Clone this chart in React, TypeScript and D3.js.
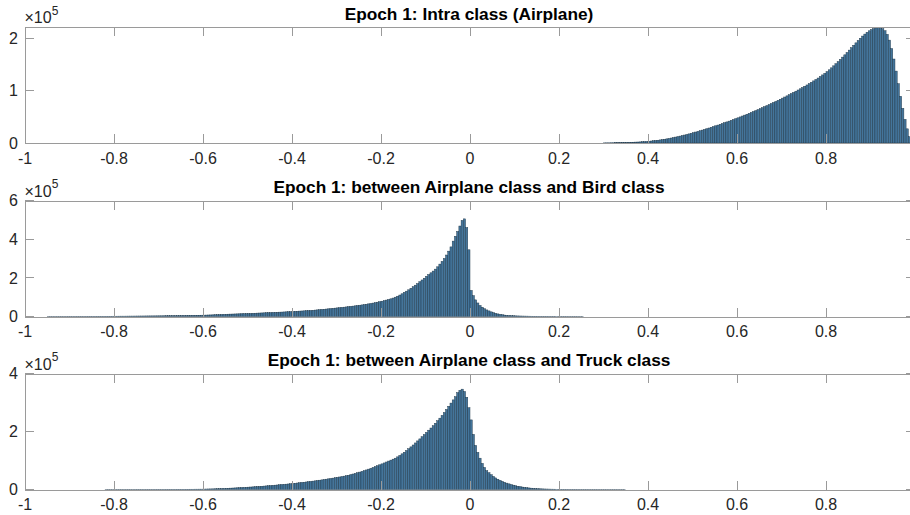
import React from 'react';
import * as d3 from 'd3';

// ---------- data ----------
const BIN = 0.005;
const X_TICKS = [-1, -0.8, -0.6, -0.4, -0.2, 0, 0.2, 0.4, 0.6, 0.8, 1];
const X_LABEL_MAX = 0.9; // the "1" label lies beyond the visible page
const TITLES = [
  'Epoch 1: Intra class (Airplane)',
  'Epoch 1: between Airplane class and Bird class',
  'Epoch 1: between Airplane class and Truck class',
];
const Y_MAX = [2.21e5, 6e5, 4e5];
const Y_TICKS = [[0, 1, 2], [0, 2, 4, 6], [0, 2, 4]]; // in units of 1e5

// counts per bin, in thousands
const INTRA_START = 0.3;
const INTRA_COUNTS_K = [
  0.2, 0.3, 0.3, 0.4, 0.4, 0.5, 0.6, 0.7, 0.8, 0.9,
  1.0, 1.2, 1.3, 1.5, 1.7, 1.9, 2.1, 2.4, 2.7, 3.0,
  3.4, 3.8, 4.3, 4.8, 5.3, 5.9, 6.5, 7.2, 7.9, 8.7,
  9.5, 10.4, 11.3, 12.2, 13.2, 14.2, 15.2, 16.3, 17.4, 18.5,
  19.7, 20.9, 22.1, 23.3, 24.6, 25.9, 27.2, 28.6, 30.0, 31.4,
  32.8, 34.2, 35.7, 37.2, 38.7, 40.2, 41.7, 43.2, 44.8, 46.4,
  48.0, 49.7, 51.4, 53.1, 54.8, 56.5, 58.2, 60.0, 61.8, 63.6,
  65.5, 67.4, 69.3, 71.2, 73.2, 75.2, 77.2, 79.2, 81.3, 83.4,
  85.5, 87.6, 89.8, 92.0, 94.2, 96.4, 98.7, 101.0, 103.3, 105.7,
  108.1, 110.6, 113.1, 115.7, 118.3, 121.0, 123.8, 126.7, 129.7, 132.8,
  136.0, 139.5, 143.2, 147.0, 151.0, 155.1, 159.3, 163.6, 168.0, 172.5,
  177.0, 181.6, 186.2, 190.8, 195.3, 199.6, 203.7, 207.5, 210.9, 213.8,
  216.2, 218.0, 219.3, 220.0, 219.6, 217.8, 213.9, 207.0, 196.0, 180.0,
  160.0, 137.0, 113.0, 89.0, 66.0, 45.0, 27.0, 12.0, 3.0, 0.5,
];

const BIRD_START = -0.95;
const BIRD_COUNTS_K = [
  0.2, 0.2, 0.3, 0.3, 0.3, 0.3, 0.4, 0.4, 0.4, 0.5,
  0.5, 0.5, 0.6, 0.6, 0.6, 0.7, 0.7, 0.8, 0.8, 0.9,
  0.9, 1.0, 1.0, 1.1, 1.1, 1.2, 1.3, 1.3, 1.4, 1.5,
  1.5, 1.6, 1.7, 1.8, 1.8, 1.9, 2.0, 2.1, 2.2, 2.3,
  2.4, 2.5, 2.6, 2.7, 2.8, 2.9, 3.0, 3.1, 3.2, 3.3,
  3.4, 3.5, 3.7, 3.8, 4.0, 4.1, 4.3, 4.4, 4.6, 4.8,
  5.0, 5.2, 5.4, 5.6, 5.8, 6.0, 6.2, 6.4, 6.6, 6.8,
  7.0, 7.4, 7.8, 8.2, 8.6, 9.0, 9.5, 10.0, 10.5, 11.0,
  11.5, 12.0, 12.4, 12.8, 13.2, 13.6, 14.0, 14.4, 14.8, 15.2,
  15.6, 16.0, 16.5, 17.0, 17.5, 18.0, 18.5, 19.0, 19.5, 20.0,
  20.5, 21.0, 21.5, 22.0, 22.5, 23.0, 23.6, 24.2, 24.8, 25.4,
  26.0, 26.6, 27.2, 27.9, 28.6, 29.3, 30.0, 30.7, 31.4, 32.2,
  33.3, 34.3, 35.3, 36.4, 37.5, 38.6, 39.8, 41.0, 42.2, 43.4,
  44.6, 45.8, 47.0, 48.3, 49.6, 51.0, 52.4, 53.8, 55.3, 56.8,
  58.4, 60.0, 61.7, 63.5, 65.4, 67.4, 69.5, 71.7, 74.0, 76.6,
  79.2, 82.0, 85.0, 88.0, 91.5, 95.5, 100.0, 105.0, 111.0, 117.5,
  125, 131, 138, 146, 154, 162, 170, 180, 189, 198,
  208, 217, 226, 235, 245, 257, 271, 285, 300, 318,
  338, 360, 390, 415, 440, 468, 497, 505, 460, 345,
  135, 108, 86, 70, 57, 48, 40, 34, 29, 24,
  20, 16.5, 13.5, 11, 9, 7.5, 6.2, 5.2, 4.4, 3.8,
  3.3, 2.9, 2.6, 2.3, 2.1, 1.9, 1.7, 1.5, 1.4, 1.3,
  1.2, 1.1, 1.0, 0.9, 0.9, 0.8, 0.8, 0.7, 0.7, 0.6,
  0.6, 0.5, 0.5, 0.4, 0.4, 0.3, 0.3, 0.3, 0.2, 0.2,
  0.2,
];

const TRUCK_START = -0.82;
const TRUCK_COUNTS_K = [
  0.1, 0.1, 0.1, 0.1, 0.1, 0.1, 0.2, 0.2, 0.2, 0.2,
  0.2, 0.2, 0.2, 0.3, 0.3, 0.3, 0.3, 0.3, 0.3, 0.3,
  0.3, 0.4, 0.4, 0.4, 0.4, 0.4, 0.5, 0.5, 0.5, 0.6,
  0.6, 0.6, 0.7, 0.7, 0.8, 0.8, 0.9, 0.9, 1.0, 1.0,
  1.1, 1.1, 1.2, 1.2, 1.4, 1.6, 1.8, 2.0, 2.2, 2.5,
  2.7, 3.0, 3.3, 3.6, 3.9, 4.3, 4.7, 5.1, 5.5, 5.9,
  6.3, 6.7, 7.1, 7.6, 8.1, 8.6, 9.1, 9.6, 10.1, 10.6,
  11.2, 11.8, 12.4, 13.0, 13.6, 14.3, 15.0, 15.6, 16.3, 17.0,
  17.7, 18.4, 19.1, 19.9, 20.7, 21.5, 22.4, 23.3, 24.2, 25.1,
  26.0, 26.9, 27.9, 28.9, 29.9, 31.0, 32.1, 33.2, 34.4, 35.6,
  36.8, 38.0, 39.3, 40.6, 41.9, 43.2, 44.6, 46.1, 47.6, 49.2,
  51.5, 53.5, 55.5, 57.7, 60.0, 62.4, 64.9, 67.5, 70.2, 73.0,
  76.0, 79.0, 82.0, 85.2, 88.4, 91.6, 94.8, 98.0, 101.3, 104.7,
  108, 112.5, 117.5, 123, 128.5, 134.5, 140.5, 147, 153.5, 160.5,
  167.5, 174.5, 182, 189.5, 197, 204.5, 212, 220, 228.5, 237,
  246, 255.5, 265.5, 276, 287, 298, 309, 320, 334, 342,
  346, 338, 318, 282, 240, 190, 152, 128, 108, 90,
  76, 65, 58, 51, 45, 40, 35.5, 31.5, 28, 25,
  22, 19.5, 17, 15, 13, 11.3, 9.8, 8.5, 7.3, 6.3,
  5.4, 4.6, 3.9, 3.3, 2.8, 2.4, 2.1, 1.8, 1.6, 1.4,
  1.2, 1.1, 1.0, 0.9, 0.7, 0.7, 0.6, 0.6, 0.5, 0.5,
  0.5, 0.4, 0.4, 0.4, 0.3, 0.3, 0.3, 0.3, 0.2, 0.2,
  0.2, 0.2, 0.2, 0.1, 0.1, 0.1, 0.1, 0.1, 0.1, 0.1,
  0.1, 0.1, 0.1, 0.1,
];

const SERIES = [
  { start: INTRA_START, counts: INTRA_COUNTS_K },
  { start: BIRD_START, counts: BIRD_COUNTS_K },
  { start: TRUCK_START, counts: TRUCK_COUNTS_K },
];

// ---------- layout ----------
const W = 910;
const H = 515;
const LEFT = 25;
const RIGHT = 915;
const TOPS = [27, 200.5, 373.5];
const PH = 116;
const TICK = 9;
const FONT = '"Liberation Sans", Arial, Helvetica, sans-serif';
const TXT = '#262626';
const AXC = '#9a9a9a';
const BAR_FILL = '#44759b';
const BAR_EDGE = '#1d3547';

const fmt = (v: number) => {
  const r = Math.round(v * 10) / 10;
  return r === 0 ? '0' : String(r);
};

function Panel({ idx }: { idx: number }) {
  const top = TOPS[idx];
  const bottom = top + PH;
  const x = d3.scaleLinear().domain([-1, 1]).range([LEFT, RIGHT]);
  const y = d3.scaleLinear().domain([0, Y_MAX[idx]]).range([bottom, top]);
  const s = SERIES[idx];
  const bw = x(BIN) - x(0);
  return (
    <g>
      <g>
        {s.counts.map((c, i) => {
          const x0 = x(s.start + i * BIN);
          const yv = y(c * 1000);
          return (
            <rect
              key={i}
              x={x0}
              y={yv}
              width={bw}
              height={bottom - yv}
              fill={BAR_FILL}
              stroke={BAR_EDGE}
              strokeWidth={0.45}
            />
          );
        })}
      </g>
      {/* axes box */}
      <g shapeRendering="crispEdges" stroke={AXC} strokeWidth={1} fill="none">
        <line x1={LEFT} x2={RIGHT} y1={Math.round(bottom) + 0.5} y2={Math.round(bottom) + 0.5} />
        <line x1={LEFT} x2={RIGHT} y1={Math.round(top) + 0.5} y2={Math.round(top) + 0.5} />
        <line x1={LEFT + 0.5} x2={LEFT + 0.5} y1={top} y2={bottom} />
        <line x1={RIGHT - 0.5} x2={RIGHT - 0.5} y1={top} y2={bottom} />
        {X_TICKS.map((t) => (
          <g key={t}>
            <line x1={x(t)} x2={x(t)} y1={bottom} y2={bottom - TICK} />
            <line x1={x(t)} x2={x(t)} y1={top} y2={top + TICK} />
          </g>
        ))}
        {Y_TICKS[idx].map((t) => (
          <g key={t}>
            <line x1={LEFT} x2={LEFT + TICK} y1={y(t * 1e5)} y2={y(t * 1e5)} />
            <line x1={RIGHT} x2={RIGHT - TICK} y1={y(t * 1e5)} y2={y(t * 1e5)} />
          </g>
        ))}
      </g>
      {/* tick labels */}
      <g fontFamily={FONT} fontSize={16} fill={TXT}>
        {X_TICKS.filter((t) => t < X_LABEL_MAX).map((t) => (
          <text key={t} x={x(t)} y={bottom + 20.5} textAnchor="middle">
            {fmt(t)}
          </text>
        ))}
        {Y_TICKS[idx].map((t) => (
          <text key={t} x={LEFT - 7} y={y(t * 1e5) + 5.8} textAnchor="end">
            {t}
          </text>
        ))}
        <text x={LEFT - 0.5} y={top - 4}>
          <tspan>×10</tspan>
          <tspan fontSize={12} dy={-8.5}>5</tspan>
        </text>
      </g>
      <text
        x={(LEFT + RIGHT) / 2 - 1}
        y={top - 7.5}
        textAnchor="middle"
        fontFamily={FONT}
        fontSize={17.3}
        fontWeight="bold"
        fill="#000"
      >
        {TITLES[idx]}
      </text>
    </g>
  );
}

export default function App() {
  return (
    <svg
      width={W}
      height={H}
      viewBox={`0 0 ${W} ${H}`}
      style={{ position: 'absolute', left: 0, top: 0, background: '#fff' }}
    >
      <rect x={0} y={0} width={W} height={H} fill="#fff" />
      {[0, 1, 2].map((i) => (
        <Panel key={i} idx={i} />
      ))}
    </svg>
  );
}
